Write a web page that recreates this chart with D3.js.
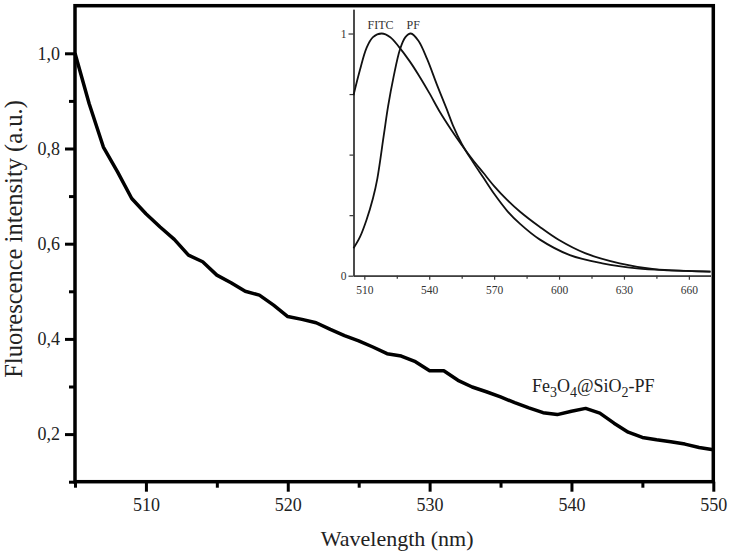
<!DOCTYPE html>
<html>
<head>
<meta charset="utf-8">
<script src="https://cdn.jsdelivr.net/npm/d3@7"></script>
<style>
  body { margin: 0; background: #fff; }
</style>
</head>
<body>
<script>
'use strict';

const serif = "'Liberation Serif', 'DejaVu Serif', serif";

// main spectrum, Fe3O4@SiO2-PF
const wavelengths = [505, 506, 507, 508, 509, 510, 511, 512, 513, 514, 515, 516, 517, 518, 519,
  520, 521, 522, 523, 524, 525, 526, 527, 528, 529, 530, 531, 532, 533, 534, 535, 536, 537, 538,
  539, 540, 541, 542, 543, 544, 545, 546, 547, 548, 549, 550];
const intensity = [1.0, 0.894, 0.803, 0.751, 0.695, 0.663, 0.635, 0.609, 0.576, 0.562, 0.534,
  0.518, 0.500, 0.492, 0.471, 0.447, 0.441, 0.434, 0.420, 0.407, 0.396, 0.383, 0.369, 0.364,
  0.352, 0.333, 0.333, 0.313, 0.299, 0.289, 0.278, 0.266, 0.255, 0.245, 0.241, 0.248, 0.254,
  0.244, 0.223, 0.204, 0.193, 0.188, 0.184, 0.179, 0.172, 0.167];

// inset spectra
const fitcWave = [505, 508, 511, 514, 518, 522, 526, 531, 535, 540, 545, 550, 555, 560, 565, 570,
  576, 582, 591, 600, 612, 628, 644, 659, 670];
const fitcVal = [0.745, 0.85, 0.94, 0.985, 1.0, 0.985, 0.945, 0.885, 0.83, 0.755, 0.675, 0.605,
  0.54, 0.48, 0.425, 0.37, 0.313, 0.264, 0.202, 0.147, 0.093, 0.051, 0.027, 0.02, 0.017];
const pfWave = [505, 508, 511, 514, 516, 519, 521, 523.5, 526.5, 529, 531.5, 535, 539, 543.5, 548,
  551, 555, 560, 565, 570, 576, 582, 591, 605, 620, 636, 651, 670];
const pfVal = [0.113, 0.16, 0.23, 0.32, 0.40, 0.58, 0.70, 0.82, 0.935, 0.985, 1.0, 0.97, 0.895,
  0.79, 0.69, 0.62, 0.545, 0.472, 0.405, 0.338, 0.268, 0.214, 0.15, 0.085, 0.051, 0.03, 0.022,
  0.017];

// tick values
const xMajor = [510, 520, 530, 540, 550];
const xMinor = [505, 515, 525, 535, 545];
const yMajor = [0.2, 0.4, 0.6, 0.8, 1.0];
const yMinor = [0.1, 0.3, 0.5, 0.7, 0.9];
const insetXMajor = [510, 540, 570, 600, 630, 660];
const insetXMinor = [525, 555, 585, 615, 645];
const insetYMajor = [0, 1];
const insetYMinor = [0.25, 0.5, 0.75];

const m = { width: 730, height: 557, left: 75, right: 713.3, top: 5.7, bottom: 481.7 };
const ins = { left: 353.5, right: 710.5, top: 9.3, bottom: 275.7 };

const svg = d3.select('body')
  .append('svg')
  .attr('width', m.width)
  .attr('height', m.height)
  .style('font-family', serif);

// scales for the main plot
const xScale = d3.scaleLinear().domain([505, 550]).range([m.left, m.right]);
const yScale = d3.scaleLinear().domain([0.1, 1.1]).range([m.bottom, m.top]);

const commaFmt = (d) => d3.format('.1f')(d).replace('.', ',');

// main axes (ticks only, frame drawn below)
function styleAxis(g, width, color) {
  g.attr('font-family', null);
  g.select('.domain').remove();
  g.selectAll('.tick line').attr('stroke', color).attr('stroke-width', width);
  g.selectAll('.tick text').attr('fill', '#222').style('font-family', serif);
}

svg.append('g')
  .attr('transform', 'translate(0,' + m.bottom + ')')
  .call(d3.axisBottom(xScale).tickValues(xMajor).tickSize(10).tickPadding(7).tickFormat(d3.format('d')))
  .call((g) => styleAxis(g, 3, '#000'))
  .selectAll('text').style('font-size', '18px');

svg.append('g')
  .attr('transform', 'translate(0,' + m.bottom + ')')
  .call(d3.axisBottom(xScale).tickValues(xMinor).tickSize(6).tickFormat(''))
  .call((g) => styleAxis(g, 3, '#000'));

svg.append('g')
  .attr('transform', 'translate(' + m.left + ',0)')
  .call(d3.axisLeft(yScale).tickValues(yMajor).tickSize(10).tickPadding(5).tickFormat(commaFmt))
  .call((g) => styleAxis(g, 3, '#000'))
  .selectAll('text').style('font-size', '18px');

svg.append('g')
  .attr('transform', 'translate(' + m.left + ',0)')
  .call(d3.axisLeft(yScale).tickValues(yMinor).tickSize(6).tickFormat(''))
  .call((g) => styleAxis(g, 3, '#000'));

// frame
svg.append('rect')
  .attr('x', m.left)
  .attr('y', m.top)
  .attr('width', m.right - m.left)
  .attr('height', m.bottom - m.top)
  .attr('fill', 'none')
  .attr('stroke', '#000')
  .attr('stroke-width', 3.5);

// main line
const line = d3.line()
  .x((d, i) => xScale(wavelengths[i]))
  .y((d) => yScale(d));

svg.append('path')
  .datum(intensity)
  .attr('d', line)
  .attr('fill', 'none')
  .attr('stroke', '#000')
  .attr('stroke-width', 3.5)
  .attr('stroke-linejoin', 'round');

// axis titles
svg.append('text')
  .attr('x', (m.left + m.right) / 2 + 3)
  .attr('y', 546)
  .attr('text-anchor', 'middle')
  .attr('fill', '#222')
  .style('font-family', serif)
  .style('font-size', '22px')
  .text('Wavelength (nm)');

svg.append('text')
  .attr('transform', 'translate(22,' + 239 + ')rotate(-90)')
  .attr('text-anchor', 'middle')
  .attr('fill', '#222')
  .style('font-family', serif)
  .style('font-size', '24.5px')
  .text('Fluorescence intensity (a.u.)');

// sample label with subscripts
const lab = svg.append('text')
  .attr('x', 532)
  .attr('y', 391.5)
  .attr('fill', '#222')
  .style('font-family', serif)
  .style('font-size', '18px');
lab.append('tspan').text('Fe');
lab.append('tspan').attr('dy', 5).style('font-size', '14px').text('3');
lab.append('tspan').attr('dy', -5).text('O');
lab.append('tspan').attr('dy', 5).style('font-size', '14px').text('4');
lab.append('tspan').attr('dy', -5).text('@SiO');
lab.append('tspan').attr('dy', 5).style('font-size', '14px').text('2');
lab.append('tspan').attr('dy', -5).text('-PF');

// ---- inset ----
const ix = d3.scaleLinear().domain([505, 670]).range([ins.left, ins.right]);
const iy = d3.scaleLinear().domain([0, 1.1]).range([ins.bottom, ins.top]);

function styleInset(g) {
  g.attr('font-family', null);
  g.selectAll('.tick line').attr('stroke', '#333').attr('stroke-width', 1.2);
  g.select('.domain').attr('stroke', '#333').attr('stroke-width', 1.3);
  g.selectAll('.tick text').attr('fill', '#333').style('font-family', serif).style('font-size', '11.5px');
}

svg.append('g')
  .attr('transform', 'translate(0,' + ins.bottom + ')')
  .call(d3.axisBottom(ix).tickValues(insetXMinor).tickSize(3).tickSizeOuter(0).tickFormat(''))
  .call(styleInset);

svg.append('g')
  .attr('transform', 'translate(0,' + ins.bottom + ')')
  .call(d3.axisBottom(ix).tickValues(insetXMajor).tickSize(4).tickSizeOuter(0).tickPadding(6).tickFormat(d3.format('d')))
  .call(styleInset);

svg.append('g')
  .attr('transform', 'translate(' + ins.left + ',0)')
  .call(d3.axisLeft(iy).tickValues(insetYMinor).tickSize(4).tickSizeOuter(0).tickFormat(''))
  .call(styleInset);

svg.append('g')
  .attr('transform', 'translate(' + ins.left + ',0)')
  .call(d3.axisLeft(iy).tickValues(insetYMajor).tickSize(5).tickSizeOuter(0).tickPadding(2).tickFormat(d3.format('d')))
  .call(styleInset);

function insetLine(xs, ys) {
  const pts = xs.map((w, i) => [w, ys[i]]);
  svg.append('path')
    .datum(pts)
    .attr('d', d3.line().x((d) => ix(d[0])).y((d) => iy(d[1])).curve(d3.curveCatmullRom.alpha(0.5)))
    .attr('fill', 'none')
    .attr('stroke', '#111')
    .attr('stroke-width', 1.8);
}
insetLine(fitcWave, fitcVal);
insetLine(pfWave, pfVal);

svg.append('text')
  .attr('x', 367.5)
  .attr('y', 29)
  .attr('fill', '#333')
  .style('font-family', serif)
  .style('font-size', '12px')
  .text('FITC');

svg.append('text')
  .attr('x', 406.5)
  .attr('y', 29)
  .attr('fill', '#333')
  .style('font-family', serif)
  .style('font-size', '12px')
  .text('PF');
</script>
</body>
</html>
